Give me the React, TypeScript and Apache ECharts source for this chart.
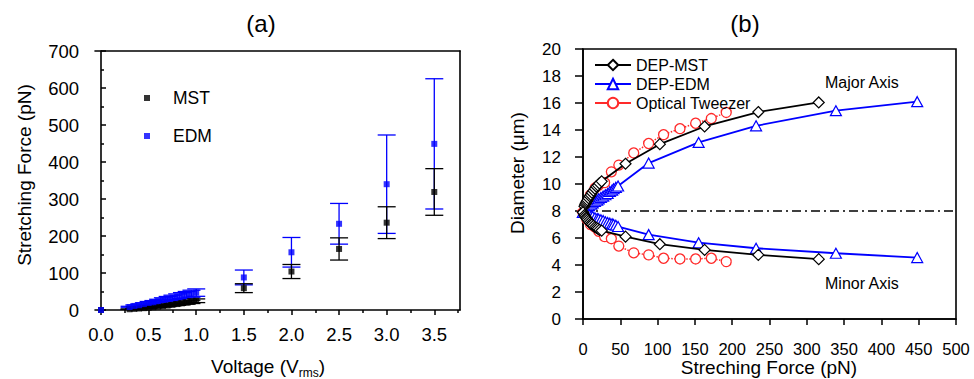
import React, { useEffect, useRef } from 'react';
import * as echarts from 'echarts';

// ---------- Panel (a) data ----------
const voltage = [0, 0.3, 0.35, 0.4, 0.45, 0.5, 0.55, 0.6, 0.65, 0.7, 0.75, 0.8, 0.85, 0.9, 0.95, 1.0, 1.5, 2.0, 2.5, 3.0, 3.5];
const mstForce = [0, 2, 3, 4, 5, 6, 7.5, 9, 10.5, 12, 14, 16, 18, 20, 22, 25, 59, 104, 165, 236, 319];
const mstErr = [0, 0.5, 0.7, 0.9, 1.1, 1.3, 1.6, 1.9, 2.2, 2.5, 2.9, 3.3, 3.7, 4.1, 4.5, 5, 12, 19, 30, 43, 63];
const edmForce = [0, 8, 11, 13, 16, 19, 21, 24, 27, 30, 33, 36, 39, 41, 44, 47, 88, 156, 233, 340, 449];
const edmErr = [0, 2, 2.5, 3, 3.5, 4, 4.5, 5, 6, 6.5, 7, 7.5, 8, 9, 9.5, 10, 20, 40, 55, 133, 176];
const aXTicks = [0, 0.5, 1, 1.5, 2, 2.5, 3, 3.5];
const aXMinorTicks = [0.25, 0.75, 1.25, 1.75, 2.25, 2.75, 3.25, 3.75];

// ---------- Panel (b) data ----------
const bMstForce = [0, 2, 3, 4, 5, 6, 7.5, 9, 10.5, 12, 14, 16, 18, 20, 22, 25, 57, 103, 163, 235, 316];
const bMstMajor = [7.9, 8.35, 8.5, 8.6, 8.7, 8.8, 8.95, 9.1, 9.2, 9.35, 9.5, 9.65, 9.8, 9.9, 10.05, 10.2, 11.5, 12.95, 14.26, 15.33, 16.04];
const bMstMinor = [7.9, 7.7, 7.6, 7.5, 7.45, 7.35, 7.25, 7.15, 7.05, 7.0, 6.9, 6.8, 6.75, 6.7, 6.6, 6.55, 6.1, 5.54, 5.12, 4.75, 4.43];
const bEdmForce = [0, 8, 11, 13, 16, 19, 21, 24, 27, 30, 33, 36, 39, 41, 44, 47, 88, 155, 232, 339, 448];
const bEdmMajor = [7.9, 8.4, 8.5, 8.6, 8.7, 8.8, 8.9, 9.0, 9.1, 9.2, 9.3, 9.45, 9.55, 9.65, 9.75, 9.85, 11.55, 13.08, 14.31, 15.43, 16.1];
const bEdmMinor = [7.9, 7.75, 7.65, 7.6, 7.5, 7.45, 7.4, 7.35, 7.3, 7.2, 7.15, 7.1, 7.05, 7.0, 6.95, 6.85, 6.25, 5.65, 5.24, 4.87, 4.55];
const otForce = [0, 5, 10, 16, 21, 29, 38, 48, 68, 88, 108, 130, 151, 172, 192];
const otMajor = [7.9, 8.6, 9.2, 9.7, 9.9, 10.1, 10.9, 11.4, 12.3, 13.0, 13.65, 14.1, 14.5, 14.85, 15.3];
const otMinor = [7.9, 7.4, 7.0, 6.8, 6.5, 6.1, 5.95, 5.4, 4.9, 4.75, 4.5, 4.45, 4.45, 4.5, 4.25];
const refLineX = [0, 500];
const refLineY = 8;

const F = "'Liberation Sans', Arial, Helvetica, sans-serif";
const BLUE = '#0000ff';
const RED = '#ff2a2a';

const zip = (xs: number[], ys: number[]) => xs.map((x, i) => [x, ys[i]]);
const zip3 = (xs: number[], ys: number[], es: number[]) => xs.map((x, i) => [x, ys[i], es[i]]);

const errRender = (color: string) => (params: any, api: any) => {
  const x = api.value(0);
  const y = api.value(1);
  const e = api.value(2);
  if (!e) return { type: 'group', children: [] };
  const c = api.coord([x, y]);
  const top = api.coord([x, y + e]);
  const bot = api.coord([x, y - e]);
  const hw = 9;
  const style = { stroke: color, lineWidth: 1.3, fill: 'none' };
  return {
    type: 'group',
    children: [
      { type: 'line', shape: { x1: c[0], y1: top[1], x2: c[0], y2: bot[1] }, style },
      { type: 'line', shape: { x1: c[0] - hw, y1: top[1], x2: c[0] + hw, y2: top[1] }, style },
      { type: 'line', shape: { x1: c[0] - hw, y1: bot[1], x2: c[0] + hw, y2: bot[1] }, style },
    ],
  };
};

export default function App() {
  const ref = useRef<HTMLDivElement>(null);
  useEffect(() => {
    if (!ref.current) return;
    document.body.style.margin = '0';
    const chart = echarts.init(ref.current, null, { renderer: 'svg' });
    const axMinA = -0.063;
    const axMaxA = 3.77;
    const lineA = { lineStyle: { color: '#000', width: 1.6 } };
    const option: any = {
      animation: false,
      backgroundColor: '#fff',
      grid: [
        { left: 95, top: 51, width: 365, height: 259, show: false },
        { left: 583, top: 49, width: 373, height: 270, show: true, borderColor: '#000', borderWidth: 1.6, backgroundColor: 'transparent' },
      ],
      xAxis: [
        {
          gridIndex: 0, type: 'value', min: axMinA, max: axMaxA, position: 'bottom',
          axisLine: { show: true, onZero: false, ...lineA },
          axisTick: { show: true, inside: false, length: 5, customValues: aXTicks, lineStyle: { color: '#000', width: 1.5 } },
          axisLabel: { show: true, customValues: aXTicks, formatter: (v: number) => v.toFixed(1), color: '#000', fontSize: 18.5, fontFamily: F, margin: 15 },
          splitLine: { show: false },
        },
        {
          gridIndex: 0, type: 'value', min: axMinA, max: axMaxA, position: 'bottom',
          axisLine: { show: false, onZero: false },
          axisTick: { show: true, inside: false, length: 3, customValues: aXMinorTicks, lineStyle: { color: '#000', width: 1.5 } },
          axisLabel: { show: false },
          splitLine: { show: false },
        },
        {
          gridIndex: 0, type: 'value', min: axMinA, max: axMaxA, position: 'top',
          axisLine: { show: true, onZero: false, ...lineA },
          axisTick: { show: false }, axisLabel: { show: false }, splitLine: { show: false },
        },
        {
          gridIndex: 1, type: 'value', min: 0, max: 500, interval: 50, position: 'bottom',
          axisLine: { show: true, onZero: false, ...lineA },
          axisTick: { show: true, inside: false, length: 6, lineStyle: { color: '#000', width: 1.5 } },
          axisLabel: { color: '#000', fontSize: 16.5, fontFamily: F, margin: 21 },
          splitLine: { show: false },
        },
      ],
      yAxis: [
        {
          gridIndex: 0, type: 'value', min: 0, max: 700, interval: 100, position: 'left',
          axisLine: { show: true, onZero: true, onZeroAxisIndex: 0, ...lineA },
          axisTick: { show: true, inside: true, length: 5, lineStyle: { color: '#000', width: 1.5 } },
          minorTick: { show: true, splitNumber: 2, length: 3, lineStyle: { color: '#000', width: 1.5 } },
          axisLabel: { color: '#000', fontSize: 18.5, fontFamily: F, margin: 16 },
          splitLine: { show: false },
        },
        {
          gridIndex: 0, type: 'value', min: 0, max: 700, position: 'right',
          axisLine: { show: true, onZero: false, ...lineA },
          axisTick: { show: false }, axisLabel: { show: false }, splitLine: { show: false },
        },
        {
          gridIndex: 1, type: 'value', min: 0, max: 20, interval: 2, position: 'left',
          axisLine: { show: true, onZero: false, ...lineA },
          axisTick: { show: true, inside: false, length: 8, lineStyle: { color: '#000', width: 1.5 } },
          axisLabel: { color: '#000', fontSize: 17, fontFamily: F, margin: 22 },
          splitLine: { show: false },
        },
      ],
      legend: [
        {
          data: [{ name: 'MST', icon: 'rect' }, { name: 'EDM', icon: 'rect' }],
          orient: 'vertical', left: 139, top: 84, itemWidth: 6, itemHeight: 6, itemGap: 20,
          textStyle: { fontSize: 17.5, fontFamily: F, color: '#000', padding: [0, 0, 0, 18], lineHeight: 18 },
          selectedMode: false,
        },
        {
          data: ['DEP-MST', 'DEP-EDM', 'Optical Tweezer'],
          orient: 'vertical', left: 589, top: 52, itemWidth: 36, itemHeight: 13, itemGap: 3,
          lineStyle: { type: 'solid' },
          textStyle: { fontSize: 16, fontFamily: F, color: '#000', lineHeight: 16 },
          selectedMode: false,
        },
      ],
      series: [
        {
          name: 'EDMerr', type: 'custom', xAxisIndex: 0, yAxisIndex: 0,
          data: zip3(voltage, edmForce, edmErr), encode: { x: 0, y: 1 },
          renderItem: errRender(BLUE), silent: true,
        },
        {
          name: 'MSTerr', type: 'custom', xAxisIndex: 0, yAxisIndex: 0,
          data: zip3(voltage, mstForce, mstErr), encode: { x: 0, y: 1 },
          renderItem: errRender('#000'), silent: true,
        },
        {
          name: 'MST', type: 'scatter', xAxisIndex: 0, yAxisIndex: 0, symbol: 'rect', symbolSize: 6,
          itemStyle: { color: '#000' }, data: zip(voltage, mstForce),
        },
        {
          name: 'EDM', type: 'scatter', xAxisIndex: 0, yAxisIndex: 0, symbol: 'rect', symbolSize: 6,
          itemStyle: { color: BLUE }, data: zip(voltage, edmForce),
        },
        {
          name: 'ref', type: 'line', xAxisIndex: 3, yAxisIndex: 2, symbol: 'none', silent: true,
          lineStyle: { color: '#000', width: 1.5, type: [9, 4, 2, 4] },
          data: refLineX.map((x) => [x, refLineY]),
        },
        {
          name: 'Optical Tweezer', type: 'line', xAxisIndex: 3, yAxisIndex: 2, symbol: 'circle', symbolSize: 10,
          lineStyle: { color: RED, width: 1.5, type: 'dotted' }, itemStyle: { color: '#fff', borderColor: RED, borderWidth: 1.3 },
          data: zip(otForce, otMajor), z: 3,
        },
        {
          name: 'Optical Tweezer', type: 'line', xAxisIndex: 3, yAxisIndex: 2, symbol: 'circle', symbolSize: 10,
          lineStyle: { color: RED, width: 1.5, type: 'dotted' }, itemStyle: { color: '#fff', borderColor: RED, borderWidth: 1.3 },
          data: zip(otForce, otMinor), z: 3,
        },
        {
          name: 'DEP-EDM', type: 'line', xAxisIndex: 3, yAxisIndex: 2, symbol: 'triangle', symbolSize: [11, 10],
          lineStyle: { color: BLUE, width: 1.8 }, itemStyle: { color: '#fff', borderColor: BLUE, borderWidth: 1.2 },
          data: zip(bEdmForce, bEdmMajor), z: 4,
        },
        {
          name: 'DEP-EDM', type: 'line', xAxisIndex: 3, yAxisIndex: 2, symbol: 'triangle', symbolSize: [11, 10],
          lineStyle: { color: BLUE, width: 1.8 }, itemStyle: { color: '#fff', borderColor: BLUE, borderWidth: 1.2 },
          data: zip(bEdmForce, bEdmMinor), z: 4,
        },
        {
          name: 'DEP-MST', type: 'line', xAxisIndex: 3, yAxisIndex: 2, symbol: 'diamond', symbolSize: 11,
          lineStyle: { color: '#000', width: 1.8 }, itemStyle: { color: '#fff', borderColor: '#000', borderWidth: 1.2 },
          data: zip(bMstForce, bMstMajor), z: 5,
        },
        {
          name: 'DEP-MST', type: 'line', xAxisIndex: 3, yAxisIndex: 2, symbol: 'diamond', symbolSize: 11,
          lineStyle: { color: '#000', width: 1.8 }, itemStyle: { color: '#fff', borderColor: '#000', borderWidth: 1.2 },
          data: zip(bMstForce, bMstMinor), z: 5,
        },
      ],
      graphic: [
        { type: 'text', x: 261, y: 23, style: { text: '(a)', fontSize: 24, fontFamily: F, fill: '#000', align: 'center', verticalAlign: 'middle' } },
        { type: 'text', x: 745, y: 23, style: { text: '(b)', fontSize: 24, fontFamily: F, fill: '#000', align: 'center', verticalAlign: 'middle' } },
        {
          type: 'text', x: 24, y: 175, rotation: Math.PI / 2,
          style: { text: 'Stretching Force (pN)', fontSize: 19, fontFamily: F, fill: '#000', align: 'center', verticalAlign: 'middle' },
        },
        {
          type: 'text', x: 517, y: 173, rotation: Math.PI / 2,
          style: { text: 'Diameter (μm)', fontSize: 19, fontFamily: F, fill: '#000', align: 'center', verticalAlign: 'middle' },
        },
        {
          type: 'text', x: 268, y: 366,
          style: {
            text: '{a|Voltage (V}{s|rms}{a|)}', align: 'center', verticalAlign: 'middle',
            rich: {
              a: { fontSize: 19, fontFamily: F, fill: '#000' },
              s: { fontSize: 12, fontFamily: F, fill: '#000', padding: [14, 0, 0, 0] },
            },
          },
        },
        {
          type: 'text', x: 769, y: 367,
          style: { text: 'Streching Force (pN)', fontSize: 19, fontFamily: F, fill: '#000', align: 'center', verticalAlign: 'middle' },
        },
        { type: 'text', x: 825, y: 82, style: { text: 'Major Axis', fontSize: 16, fontFamily: F, fill: '#000', align: 'left', verticalAlign: 'middle' } },
        { type: 'text', x: 825, y: 283, style: { text: 'Minor Axis', fontSize: 16, fontFamily: F, fill: '#000', align: 'left', verticalAlign: 'middle' } },
      ],
    };
    chart.setOption(option);
    return () => chart.dispose();
  }, []);
  return <div ref={ref} style={{ position: 'fixed', left: 0, top: 0, width: 974, height: 379 }} />;
}
